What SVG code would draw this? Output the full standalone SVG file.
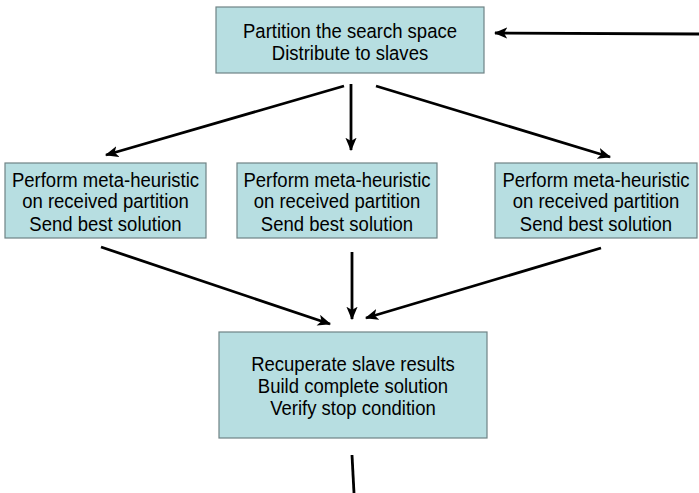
<svg xmlns="http://www.w3.org/2000/svg" width="699" height="493" viewBox="0 0 699 493">
<defs>
<style>
.box{fill:#b7dee1;stroke:#6f8385;stroke-width:1.2}
.t{font-family:"Liberation Sans",Arial,sans-serif;font-size:19.5px;fill:#000;text-anchor:middle}
.c{stroke:#000;stroke-width:2.8;fill:none;marker-end:url(#ah)}
</style>
<marker id="ah" viewBox="0 0 12 10" refX="11" refY="5" markerWidth="4.8" markerHeight="4.2" markerUnits="strokeWidth" orient="auto">
<path d="M0,0 L12,5 L0,10 L3,5 Z" fill="#000"/>
</marker>
</defs>
<rect width="699" height="493" fill="#fff"/>
<g id="connectors">
<line class="c" x1="699" y1="34" x2="495" y2="33"/>
<line class="c" x1="344" y1="86" x2="106" y2="155"/>
<line class="c" x1="351" y1="84" x2="351" y2="150"/>
<line class="c" x1="376" y1="86" x2="610" y2="157"/>
<line class="c" x1="101" y1="247" x2="330" y2="324"/>
<line class="c" x1="352" y1="252" x2="352" y2="319"/>
<line class="c" x1="601" y1="248" x2="366" y2="318"/>
<line stroke="#000" stroke-width="2.8" x1="352" y1="455" x2="354" y2="493"/>
</g>
<g id="master">
<rect class="box" x="216" y="7" width="268" height="66"/>
<text class="t" transform="translate(350,38) scale(0.95,1)">Partition the search space</text>
<text class="t" transform="translate(350,59.5) scale(0.95,1)">Distribute to slaves</text>
</g>
<g id="slave1">
<rect class="box" x="5" y="163" width="201" height="75"/>
<text class="t" transform="translate(105.5,187.3) scale(0.95,1)">Perform meta-heuristic</text>
<text class="t" transform="translate(105.5,208) scale(0.95,1)">on received partition</text>
<text class="t" transform="translate(105.5,231) scale(0.95,1)">Send best solution</text>
</g>
<g id="slave2">
<rect class="box" x="237" y="163" width="200" height="75"/>
<text class="t" transform="translate(337,187.3) scale(0.95,1)">Perform meta-heuristic</text>
<text class="t" transform="translate(337,208) scale(0.95,1)">on received partition</text>
<text class="t" transform="translate(337,231) scale(0.95,1)">Send best solution</text>
</g>
<g id="slave3">
<rect class="box" x="495" y="163" width="202" height="75"/>
<text class="t" transform="translate(596,187.3) scale(0.95,1)">Perform meta-heuristic</text>
<text class="t" transform="translate(596,208) scale(0.95,1)">on received partition</text>
<text class="t" transform="translate(596,231) scale(0.95,1)">Send best solution</text>
</g>
<g id="collect">
<rect class="box" x="219" y="332" width="268" height="106"/>
<text class="t" transform="translate(353,371) scale(0.95,1)">Recuperate slave results</text>
<text class="t" transform="translate(353,393) scale(0.95,1)">Build complete solution</text>
<text class="t" transform="translate(353,415) scale(0.95,1)">Verify stop condition</text>
</g>
</svg>
